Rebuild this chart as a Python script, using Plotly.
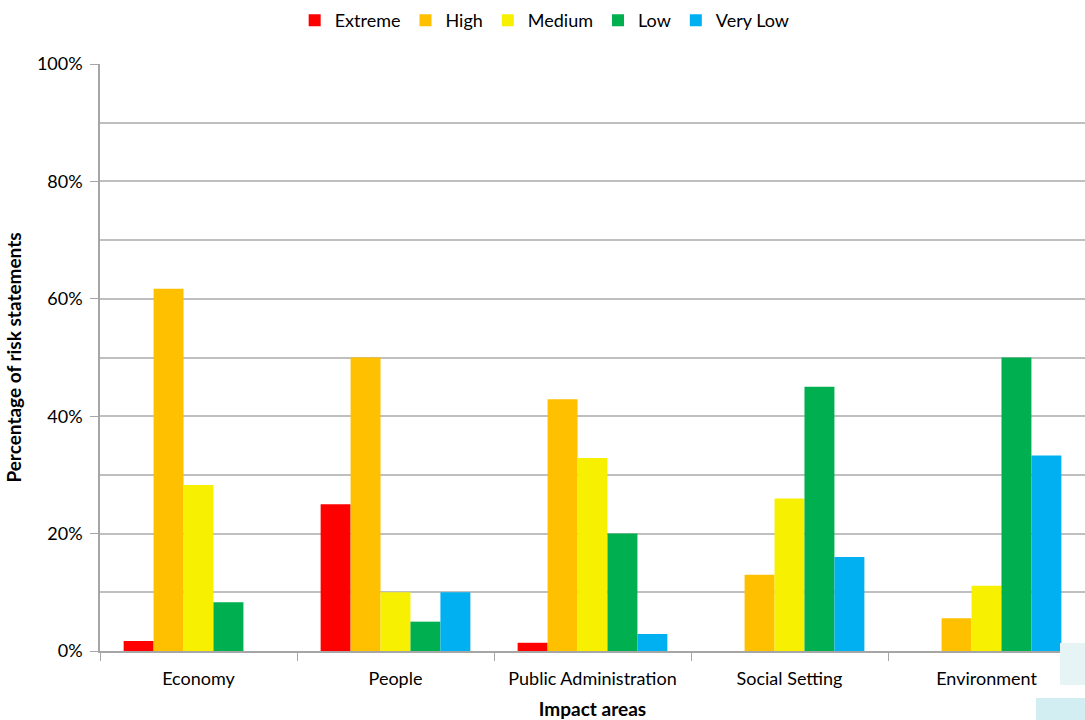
import plotly.graph_objects as go

categories = ["Economy", "People", "Public Administration", "Social Setting", "Environment"]
series_names = ["Extreme", "High", "Medium", "Low", "Very Low"]
extreme = [0.017, 0.25, 0.014, None, None]
high = [0.617, 0.50, 0.429, 0.13, 0.056]
medium = [0.283, 0.10, 0.329, 0.26, 0.111]
low = [0.083, 0.05, 0.20, 0.45, 0.50]
very_low = [None, 0.10, 0.029, 0.16, 0.333]
colors = ["#FF0000", "#FFC000", "#F7F000", "#00B050", "#00B0F0"]

values = [extreme, high, medium, low, very_low]
font_family = "Lato, 'Open Sans', sans-serif"

fig = go.Figure()
for name, vals, col in zip(series_names, values, colors):
    fig.add_trace(go.Bar(name=name, x=categories, y=vals, marker=dict(color=col, line=dict(width=0))))

fig.update_layout(
    barmode="group",
    bargap=0.24,
    bargroupgap=0,
    width=1085,
    height=720,
    margin=dict(l=100, r=0, t=64, b=69),
    paper_bgcolor="white",
    plot_bgcolor="white",
    font=dict(family=font_family, size=18, color="#000000"),
    legend=dict(orientation="h", x=0.502, xref="container", xanchor="center", y=0.997, yref="container",
                yanchor="top", font=dict(size=18), itemwidth=30, traceorder="normal", tracegroupgap=0),
    showlegend=True,
)
fig.update_yaxes(
    range=[0, 1], tickformat=".0%", dtick=0.2, showgrid=True, gridcolor="#BFBFBF", gridwidth=1.5,
    minor=dict(dtick=0.1, showgrid=True, gridcolor="#BFBFBF", gridwidth=1.5),
    showline=True, linecolor="#A6A6A6", linewidth=1.5, ticks="outside", ticklen=8, tickcolor="#A6A6A6",
    zeroline=False, tickfont=dict(size=18), ticklabelstandoff=4,
    title=dict(text="<b>Percentage of risk statements</b>", font=dict(size=19), standoff=10),
)
fig.update_xaxes(
    showline=True, linecolor="#A6A6A6", linewidth=1.5, ticks="outside", ticklen=8, tickcolor="#A6A6A6",
    tickson="boundaries", showgrid=False, tickfont=dict(size=18), ticklabelstandoff=11,
    title=dict(text="<b>Impact areas</b>", font=dict(size=19), standoff=14),
)
fig.add_shape(type="rect", xref="paper", yref="paper", x0=(1060 - 100) / 985, x1=1.0,
              y0=(651 - 685) / 587, y1=(651 - 643) / 587, fillcolor="#E6F4F6", line=dict(width=0), layer="above")
fig.add_shape(type="rect", xref="paper", yref="paper", x0=(1036 - 100) / 985, x1=1.0,
              y0=(651 - 720) / 587, y1=(651 - 698) / 587, fillcolor="#D3EEF2", line=dict(width=0), layer="above")

fig.write_html("out.html")
